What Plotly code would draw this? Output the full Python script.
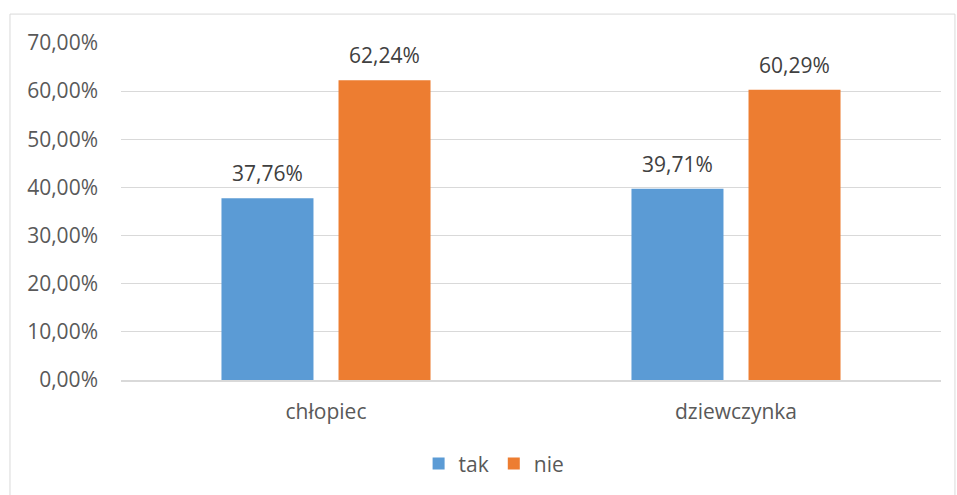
import plotly.graph_objects as go

categories = ["chłopiec", "dziewczynka"]
tak = [37.76, 39.71]
nie = [62.24, 60.29]
series_names = ["tak", "nie"]
ytick_vals = [0, 10, 20, 30, 40, 50, 60, 70]
ytick_text = ["0,00%", "10,00%", "20,00%", "30,00%", "40,00%", "50,00%", "60,00%", "70,00%"]

def fmt(v):
    return f"{v:.2f}".replace(".", ",") + "%"

FONT = "Open Sans, Liberation Sans, sans-serif"
TXT = "#595959"
LBL = "#404040"
FS = 21
BARGAP = 0.429
GROUPGAP = 0.214

fig = go.Figure()
series = [(series_names[0], tak, "#5B9BD5"), (series_names[1], nie, "#ED7D31")]
for name, vals, color in series:
    fig.add_trace(go.Bar(
        x=categories, y=vals, name=name, marker_color=color, marker_line_width=0,
        hoverinfo="skip",
    ))

# data labels as annotations placed above each bar
plot_w = 957 - 121 - 16
slot = plot_w / len(categories) * (1 - BARGAP) / len(series)
annotations = []
for si, (name, vals, color) in enumerate(series):
    off = (si - (len(series) - 1) / 2) * slot
    for c, v in zip(categories, vals):
        annotations.append(dict(x=c, y=v, text=fmt(v), showarrow=False, xshift=off,
                                yanchor="bottom", yshift=9,
                                font=dict(size=FS, color=LBL, family=FONT)))

fig.update_layout(
    width=957, height=495,
    margin=dict(l=121, r=16, t=43, b=114),
    paper_bgcolor="white", plot_bgcolor="white",
    barmode="group", bargap=BARGAP, bargroupgap=GROUPGAP,
    font=dict(family=FONT, size=FS, color=TXT),
    showlegend=True,
    legend=dict(orientation="h", x=0.455, xanchor="center", y=-0.245, yanchor="middle",
                font=dict(size=FS, color=TXT), traceorder="normal", itemwidth=30),
    annotations=annotations,
    shapes=[dict(type="rect", xref="paper", yref="paper", x0=-0.1354, x1=1.017, y0=-0.6, y1=1.0858,
                 line=dict(color="#D9D9D9", width=1), fillcolor="rgba(0,0,0,0)", layer="below")],
)
fig.update_xaxes(showgrid=False, showline=True, linecolor="#D9D9D9", linewidth=1.5,
                 ticks="", ticklabelstandoff=12, tickfont=dict(size=FS, color=TXT))
fig.update_yaxes(range=[0, 70], tickvals=ytick_vals, ticktext=ytick_text, showgrid=True,
                 gridcolor="#D9D9D9", gridwidth=1, zeroline=False, showline=False,
                 ticklabelstandoff=22, tickfont=dict(size=FS, color=TXT))
fig.write_html("out.html", post_script="document.body.style.margin='0';",
               config={"displayModeBar": False})
